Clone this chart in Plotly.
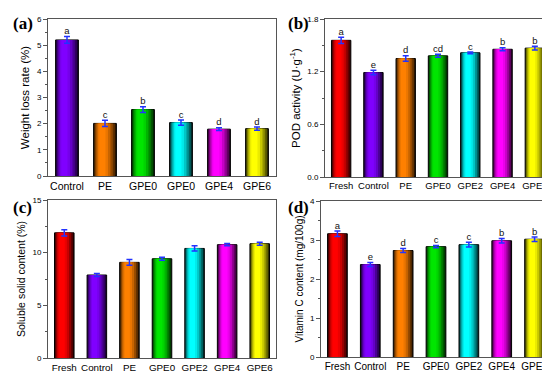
import plotly.graph_objects as go
from plotly.subplots import make_subplots

# ---------------- data ----------------
cats_a = ["Control", "PE", "GPE0", "GPE0", "GPE4", "GPE6"]
weight_loss = [5.20, 2.01, 2.54, 2.04, 1.79, 1.81]
weight_loss_err = [0.13, 0.12, 0.11, 0.10, 0.05, 0.06]
letters_a = ["a", "c", "b", "c", "d", "d"]

cats_b = ["Fresh", "Control", "PE", "GPE0", "GPE2", "GPE4", "GPE6"]
pod = [1.557, 1.19, 1.35, 1.38, 1.415, 1.455, 1.468]
pod_err = [0.035, 0.025, 0.03, 0.017, 0.01, 0.017, 0.022]
letters_b = ["a", "e", "d", "cd", "c", "b", "b"]

cats_c = ["Fresh", "Control", "PE", "GPE0", "GPE2", "GPE4", "GPE6"]
ssc = [11.88, 7.88, 9.08, 9.42, 10.40, 10.76, 10.85]
ssc_err = [0.30, 0.15, 0.28, 0.15, 0.25, 0.10, 0.15]

cats_d = ["Fresh", "Control", "PE", "GPE0", "GPE2", "GPE4", "GPE6"]
vitc = [3.16, 2.37, 2.73, 2.83, 2.88, 2.98, 3.02]
vitc_err = [0.07, 0.05, 0.05, 0.03, 0.06, 0.06, 0.06]
letters_d = ["a", "e", "d", "c", "c", "b", "b"]

RED = (255, 0, 0)
PURPLE = (128, 0, 255)
ORANGE = (255, 128, 0)
GREEN = (0, 230, 0)
CYAN = (0, 255, 255)
MAGENTA = (255, 0, 255)
YELLOW = (255, 255, 0)
colors_a = [PURPLE, ORANGE, GREEN, CYAN, MAGENTA, YELLOW]
colors_7 = [RED, PURPLE, ORANGE, GREEN, CYAN, MAGENTA, YELLOW]

# ---------------- figure ----------------
fig = make_subplots(rows=2, cols=2)

BAR_W = 0.6
LAYERS = [  # (left frac, right frac, brightness)
    (0.00, 1.00, 0.18),
    (0.04, 0.93, 0.38),
    (0.08, 0.84, 0.58),
    (0.13, 0.74, 0.78),
    (0.19, 0.63, 0.92),
    (0.25, 0.52, 1.00),
]


def shade(c, f):
    return "rgb(%d,%d,%d)" % tuple(int(round(v * f)) for v in c)


def add_panel(row, col, cats, vals, errs, cols, letters):
    xs = list(range(len(cats)))
    for i, (lf, rf, f) in enumerate(LAYERS):
        fig.add_trace(go.Bar(
            x=xs, y=vals,
            width=[(rf - lf) * BAR_W] * len(xs),
            offset=[-BAR_W / 2 + lf * BAR_W] * len(xs),
            marker=dict(color=[shade(c, f) for c in cols],
                        line=dict(color="black", width=1 if i == 0 else 0)),
            showlegend=False, hoverinfo="skip"), row=row, col=col)
    fig.add_trace(go.Scatter(
        x=xs, y=vals, mode="markers", marker=dict(size=1, color="rgba(0,0,0,0)"),
        error_y=dict(type="data", array=errs, color="#2233ff", thickness=1.5, width=3),
        showlegend=False, hoverinfo="skip"), row=row, col=col)
    if letters:
        fig.add_trace(go.Scatter(
            x=xs, y=[v + e for v, e in zip(vals, errs)], mode="text", text=letters,
            textposition="top center",
            textfont=dict(size=9.5, color="#111", family="Liberation Sans"),
            showlegend=False, hoverinfo="skip"), row=row, col=col)


add_panel(1, 1, cats_a, weight_loss, weight_loss_err, colors_a, letters_a)
add_panel(1, 2, cats_b, pod, pod_err, colors_7, letters_b)
add_panel(2, 1, cats_c, ssc, ssc_err, colors_7, None)
add_panel(2, 2, cats_d, vitc, vitc_err, colors_7, letters_d)

W, H = 550, 374


def dom_x(a, b):
    return [a / W, b / W]


def dom_y(top, bottom):
    return [1 - bottom / H, 1 - top / H]


def xfont(s):
    return dict(family="Liberation Sans", size=s, color="black")


common_x = dict(showline=True, linecolor="#555", linewidth=1, mirror=True,
                ticks="", showgrid=False, zeroline=False, tickangle=0,
                automargin=False)
common_y = dict(showline=True, linecolor="#555", linewidth=1, mirror=True,
                ticks="outside", ticklen=4, tickcolor="#555", showgrid=False,
                zeroline=False, tickfont=dict(family="Liberation Sans", size=8, color="black"),
                title_standoff=4, automargin=False)

fig.update_layout(
    width=W, height=H, margin=dict(l=0, r=0, t=0, b=0),
    plot_bgcolor="white", paper_bgcolor="white", barmode="overlay",
    xaxis=dict(common_x, domain=dom_x(40, 268), range=[-0.5, 5.5],
               tickvals=list(range(6)), ticktext=cats_a, tickfont=xfont(10.5)),
    yaxis=dict(common_y, domain=dom_y(11, 168), range=[0, 6], dtick=1,
               minor=dict(ticks="outside", ticklen=2, dtick=0.5, tickcolor="#555"),
               title_text="Weight loss rate (%)", title_font=xfont(11.5)),
    xaxis2=dict(common_x, domain=dom_x(317, 543), range=[-0.5, 6.5],
                tickvals=list(range(7)), ticktext=cats_b, tickfont=xfont(9.5)),
    yaxis2=dict(common_y, domain=dom_y(11, 169), range=[0, 1.8], dtick=0.6,
                tickformat=".1f",
                minor=dict(ticks="outside", ticklen=2, dtick=0.3, tickcolor="#555"),
                title_text="POD activity (U·g<sup>-1</sup>)", title_font=xfont(11.5)),
    xaxis3=dict(common_x, domain=dom_x(40, 268), range=[-0.5, 6.5],
                tickvals=list(range(7)), ticktext=cats_c, tickfont=xfont(9.8)),
    yaxis3=dict(common_y, domain=dom_y(192, 350), range=[0, 15], dtick=5,
                minor=dict(ticks="outside", ticklen=2, dtick=2.5, tickcolor="#555"),
                title_text="Soluble solid content (%)", title_font=xfont(10.5)),
    xaxis4=dict(common_x, domain=dom_x(313, 543), range=[-0.5, 6.5],
                tickvals=list(range(7)), ticktext=cats_d, tickfont=xfont(10)),
    yaxis4=dict(common_y, domain=dom_y(193, 349), range=[0, 4], dtick=1,
                minor=dict(ticks="outside", ticklen=2, dtick=0.5, tickcolor="#555"),
                title_text="Vitamin C content (mg/100g)", title_font=xfont(10)),
)

labfont = dict(family="Liberation Serif", size=17, color="black")
for txt, x, y in [("<b>(a)</b>", 3, 15), ("<b>(b)</b>", 278, 15),
                  ("<b>(c)</b>", 3, 199), ("<b>(d)</b>", 278, 199)]:
    fig.add_annotation(text=txt, x=x / W, y=1 - y / H, xref="paper", yref="paper",
                       xanchor="left", yanchor="middle", showarrow=False, font=labfont)

fig.write_html("out.html")
